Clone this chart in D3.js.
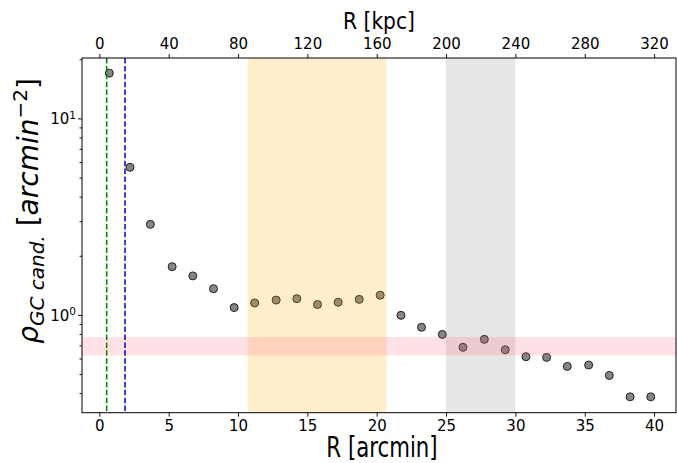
<!DOCTYPE html>
<html><head><meta charset="utf-8">
<script src="https://cdn.jsdelivr.net/npm/d3@7"></script>
<style>
body{margin:0;background:#fff;}
text{font-family:"DejaVu Sans",sans-serif;fill:#000;}
</style></head>
<body><svg id="c" width="677" height="463"></svg>
<script>
// Data
const radiusArcmin = [0.72,2.21,3.68,5.25,6.74,8.23,9.72,11.2,12.75,14.24,15.73,17.22,18.74,20.25,21.75,23.23,24.73,26.22,27.76,29.27,30.76,32.25,33.74,35.28,36.77,38.27,39.76];
const density = [17.0,5.64,2.89,1.76,1.58,1.36,1.09,1.15,1.19,1.21,1.13,1.16,1.20,1.26,0.995,0.865,0.796,0.684,0.751,0.665,0.613,0.608,0.547,0.556,0.492,0.383,0.383];
const bottomTicks = [0,5,10,15,20,25,30,35,40];
const topTicksKpc = [0,40,80,120,160,200,240,280,320];
const kpcPerArcmin = 8;
const orangeSpan = [10.7,20.7];
const graySpan = [25.0,30.0];
const pinkBand = [0.622,0.772];
const greenLine = 0.53;
const blueLine = 1.85;
const yMajor = [1,10];
const yMajorExp = ["0","1"];

const svg = d3.select("#c");
const L=82,R=676,T=58,B=412.7;
const x = d3.scaleLinear().domain([-1.25,41.58]).range([L,R]);
const y = d3.scaleLog().domain([0.318,20.3]).range([B,T]);

// points first
svg.append("g").selectAll("circle").data(radiusArcmin).join("circle")
  .attr("cx",(d)=>x(d)).attr("cy",(d,i)=>y(density[i])).attr("r",4)
  .attr("fill","#858585").attr("stroke","#222").attr("stroke-width",1);

// spans on top
svg.append("rect").attr("x",x(orangeSpan[0])).attr("width",x(orangeSpan[1])-x(orangeSpan[0]))
  .attr("y",T).attr("height",B-T).attr("fill","orange").attr("fill-opacity",0.2);
svg.append("rect").attr("x",x(graySpan[0])).attr("width",x(graySpan[1])-x(graySpan[0]))
  .attr("y",T).attr("height",B-T).attr("fill","gray").attr("fill-opacity",0.2);
svg.append("rect").attr("x",L).attr("width",R-L)
  .attr("y",y(pinkBand[1])).attr("height",y(pinkBand[0])-y(pinkBand[1])).attr("fill","#ff4d6a").attr("fill-opacity",0.17);

// dashed lines
svg.append("line").attr("x1",x(greenLine)).attr("x2",x(greenLine)).attr("y1",T).attr("y2",B)
  .attr("stroke","green").attr("stroke-width",1.5).attr("stroke-dasharray","5.5,2.4");
svg.append("line").attr("x1",x(blueLine)).attr("x2",x(blueLine)).attr("y1",T).attr("y2",B)
  .attr("stroke","#0000cc").attr("stroke-width",1.5).attr("stroke-dasharray","5.5,2.4");

// axes
const fs = "15px";
const gb = svg.append("g").attr("transform",`translate(0,${B})`)
  .call(d3.axisBottom(x).tickValues(bottomTicks).tickSize(4).tickPadding(4).tickFormat(d3.format("d")));
const gt = svg.append("g").attr("transform",`translate(0,${T})`)
  .call(d3.axisTop(x).tickValues(topTicksKpc.map(k=>k/kpcPerArcmin)).tickSize(4).tickPadding(5)
  .tickFormat((d,i)=>topTicksKpc[i]));
const minor = [];
[0.1,1,10].forEach(p=>{for(let k=2;k<=9;k++){const v=k*p; if(v>=0.318&&v<=20.3) minor.push(v);}});
const gl = svg.append("g").attr("transform",`translate(${L},0)`)
  .call(d3.axisLeft(y).tickValues(minor).tickSize(2.5).tickFormat(""));
const gl2 = svg.append("g").attr("transform",`translate(${L},0)`)
  .call(d3.axisLeft(y).tickValues(yMajor).tickSize(4).tickPadding(4).tickFormat(""));
gl2.selectAll(".tick").append("text").attr("x",-6).attr("dy","0.35em").attr("text-anchor","end")
  .style("font-size",fs).attr("fill","#000")
  .each(function(d,i){
    const t=d3.select(this);
    t.append("tspan").text("10");
    t.append("tspan").attr("dy","-0.5em").style("font-size","10.5px").text(yMajorExp[i]);
  });
[gb,gt,gl,gl2].forEach(g=>{
  g.selectAll("text").style("font-size",fs).style("font-family","DejaVu Sans");
  g.select(".domain").remove();
  g.selectAll(".tick line").attr("stroke","#000").attr("stroke-width",0.9);
});
// frame
svg.append("rect").attr("x",L).attr("y",T).attr("width",R-L).attr("height",B-T)
  .attr("fill","none").attr("stroke","#000").attr("stroke-width",1);

// labels
svg.append("text").attr("transform","translate(382,457) scale(0.76,1)").attr("text-anchor","middle")
  .style("font-size","28px").text("R [arcmin]");
svg.append("text").attr("transform","translate(379,29) scale(0.88,1)").attr("text-anchor","middle")
  .style("font-size","23px").text("R [kpc]");
const yl = svg.append("text").attr("transform","translate(38,211) rotate(-90)").attr("text-anchor","middle")
  .style("font-size","28px");
yl.append("tspan").style("font-style","italic").text("ρ");
yl.append("tspan").style("font-style","italic").style("font-size","20px").attr("dy","6").text("GC cand.");
yl.append("tspan").attr("dy","-6").text("  [");
yl.append("tspan").style("font-style","italic").text("arcmin");
yl.append("tspan").style("font-size","20px").attr("dy","-11").text("−2");
yl.append("tspan").attr("dy","11").text("]");
</script></body></html>
